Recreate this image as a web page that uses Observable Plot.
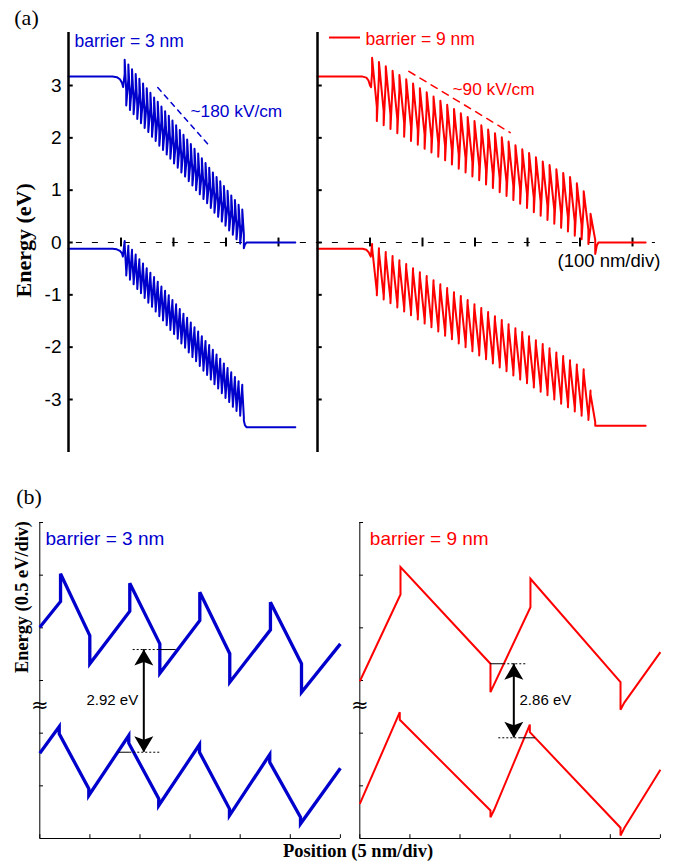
<!DOCTYPE html>
<html>
<head>
<meta charset="utf-8">
<script src="https://cdn.jsdelivr.net/npm/d3@7"></script>
<script src="https://cdn.jsdelivr.net/npm/@observablehq/plot@0.6"></script>
<style>
  html, body { margin: 0; padding: 0; background: #fff; }
  #wrap { position: relative; width: 675px; height: 861px; overflow: hidden; }
  #pa { position: absolute; left: 0; top: 0; }
  #pb { position: absolute; left: 0; top: 470px; }
</style>
</head>
<body>
<div id="wrap"><div id="pa"></div><div id="pb"></div></div>
<script>
// ======================= DATA =======================
// ---- Panel (a): band edges (eV) vs position (nm) ----
const aYTicks = [3, 2, 1, 0, -1, -2, -3];
const aYTickLabels = ["3", "2", "1", "0", "-1", "-2", "-3"];
const aDivTicksLeft = [100, 200, 300, 400];
const aDivTicksRight = [100, 200, 300, 400, 500, 600];

// barrier = 3 nm (period 7 nm): barrier start positions (nm)
const leftBarrierStart = [107,114,121,128,135,142,149,156,163,170,177,184,191,198,205,212,219,226,233,240,247,254,261,268,275,282,289,296,303,310,317,324,331];
const leftBarrierWidth = 3;
// conduction band: spike top at barrier start, trough at barrier end
const leftCbTop = [3.49,3.40,3.31,3.22,3.13,3.04,2.95,2.86,2.77,2.69,2.60,2.51,2.42,2.33,2.24,2.15,2.06,1.97,1.88,1.79,1.70,1.61,1.52,1.43,1.34,1.25,1.17,1.08,0.99,0.90,0.81,0.72,0.63];
const leftCbBottom = [2.62,2.53,2.45,2.36,2.28,2.19,2.11,2.02,1.94,1.85,1.77,1.68,1.60,1.51,1.43,1.34,1.26,1.17,1.09,1.00,0.92,0.83,0.75,0.66,0.57,0.49,0.40,0.32,0.23,0.15,0.06,-0.02,-0.11];
const leftVbTop = [0.03,-0.06,-0.14,-0.23,-0.32,-0.40,-0.49,-0.58,-0.66,-0.75,-0.84,-0.92,-1.01,-1.10,-1.18,-1.27,-1.36,-1.44,-1.53,-1.62,-1.70,-1.79,-1.88,-1.96,-2.05,-2.14,-2.22,-2.31,-2.40,-2.48,-2.57,-2.65,-2.72];
const leftVbBottom = [-0.63,-0.71,-0.80,-0.89,-0.97,-1.06,-1.15,-1.23,-1.32,-1.41,-1.49,-1.58,-1.67,-1.75,-1.84,-1.93,-2.01,-2.10,-2.19,-2.27,-2.36,-2.45,-2.53,-2.62,-2.71,-2.79,-2.88,-2.97,-3.05,-3.14,-3.22,-3.31,-3.40];
const leftCbLead = [[0,3.17],[84,3.17],[92,3.16],[98,3.12],[102,3.05],[104,2.97]];
const leftCbTail = [[336,-0.04],[339,0.0],[432,0.0]];
const leftVbLead = [[0,-0.12],[84,-0.12],[92,-0.13],[98,-0.16],[102,-0.21],[103.5,-0.27]];
const leftVbTail = [[336,-3.49],[339,-3.53],[432,-3.53]];
const leftFieldGuide = [[170,2.96],[270,1.83]];

// barrier = 9 nm (period 13 nm)
const rightBarrierStart = [104,117,130,143,156,169,182,195,208,221,234,247,260,273,286,299,312,325,338,351,364,377,390,403,416,429,442,455,468,481,494,507,520];
const rightBarrierWidth = 9;
const rightCbTop = [3.53,3.45,3.37,3.28,3.20,3.12,3.04,2.95,2.87,2.79,2.71,2.63,2.55,2.47,2.40,2.32,2.24,2.16,2.09,2.01,1.93,1.86,1.78,1.71,1.63,1.55,1.48,1.40,1.33,1.25,1.13,0.98,0.55];
const rightCbBottom = [2.32,2.24,2.17,2.09,2.02,1.94,1.87,1.79,1.72,1.64,1.57,1.49,1.41,1.34,1.26,1.19,1.11,1.04,0.96,0.89,0.81,0.74,0.66,0.58,0.51,0.43,0.36,0.28,0.21,0.13,0.06,-0.03,-0.22];
const rightVbTop = [-0.03,-0.11,-0.18,-0.26,-0.34,-0.41,-0.49,-0.57,-0.64,-0.72,-0.80,-0.87,-0.95,-1.02,-1.10,-1.18,-1.25,-1.33,-1.41,-1.48,-1.56,-1.64,-1.71,-1.79,-1.87,-1.94,-2.02,-2.10,-2.17,-2.25,-2.33,-2.42,-2.83];
const rightVbBottom = [-1.01,-1.09,-1.16,-1.24,-1.32,-1.39,-1.47,-1.55,-1.62,-1.70,-1.78,-1.85,-1.93,-2.00,-2.08,-2.16,-2.23,-2.31,-2.39,-2.46,-2.54,-2.62,-2.69,-2.77,-2.85,-2.92,-3.00,-3.08,-3.15,-3.23,-3.31,-3.39,-3.50];
const rightCbLead = [[0,3.17],[86,3.17],[93,3.15],[97,3.10],[100,3.00],[102,2.97]];
const rightCbTail = [[532,-0.06],[535,0.0],[625,0.0]];
const rightVbLead = [[0,-0.12],[86,-0.12],[93,-0.14],[97,-0.18],[100,-0.24],[101.5,-0.27]];
const rightVbTail = [[531,-3.50],[625,-3.50]];
const rightFieldGuide = [[174,3.27],[367,2.10]];

const cbOffsetStep = 0.27;  // band-offset jump at each interface (eV)
const vbOffsetStep = 0.07;

// ---- Panel (b): zoom of a few periods (nm, eV on the broken 0.5 eV/div axis) ----
const bYTicks = [0.5, 1, 1.5, 2, 2.5, 3];
const bXTicks = [0, 5, 10, 15, 20, 25, 30];
const bLeftCb = [[0,2.006],[2.07,2.250],[2.07,2.513],[4.99,1.927],[4.99,1.659],[8.98,2.158],[8.98,2.424],[11.98,1.848],[11.98,1.569],[15.97,2.070],[15.97,2.338],[18.96,1.754],[18.96,1.484],[23.02,1.981],[23.02,2.243],[26.12,1.659],[26.12,1.389],[30.0,1.848]];
const bLeftVb = [[0,0.810],[1.94,1.063],[1.94,0.994],[4.89,0.472],[4.89,0.408],[8.88,0.978],[8.88,0.905],[11.87,0.377],[11.87,0.313],[15.94,0.892],[15.94,0.819],[18.93,0.282],[18.93,0.218],[22.95,0.797],[22.95,0.724],[26.02,0.202],[26.02,0.140],[30.0,0.667]];
const bRightCb = [[0,1.493],[4.06,2.317],[4.06,2.576],[13.04,1.659],[13.04,1.389],[17.03,2.196],[17.03,2.466],[26.02,1.484],[26.02,1.222],[26.4,1.29],[30.0,1.769]];
const bRightVb = [[0,0.329],[3.99,1.199],[3.99,1.127],[13.04,0.266],[13.04,0.202],[13.4,0.27],[16.97,1.082],[16.97,1.009],[26.02,0.102],[26.02,0.028],[26.4,0.10],[30.0,0.652]];
// confined levels (solid inside the well, dotted extension) and gap arrows
const bLeftLevelsSolid = [[11.98,13.61,1.794],[7.88,8.98,0.819]];
const bLeftLevelsDotted = [[9.32,11.98,1.794],[8.98,11.98,0.819]];
const bRightLevelsSolid = [[13.04,14.37,1.659],[16.04,17.53,0.956]];
const bRightLevelsDotted = [[14.37,16.77,1.659],[13.87,16.04,0.956]];
const bGapLabels = ["2.92 eV", "2.86 eV"];
const bGapArrowLeft = {x: 10.38, top: 1.794, bottom: 0.819};
const bGapArrowRight = {x: 15.37, top: 1.659, bottom: 0.956};

// ======================= LAYOUT / STYLE =======================
const BLUE = "#0000cd";
const RED = "#ff0000";
const SANS = "'Liberation Sans', Arial, Helvetica, sans-serif";
const SERIF = "'Liberation Serif', 'Times New Roman', Times, serif";
const A_OFFSET = 474.3;   // origin of right sub-panel of (a) on shared x axis (nm)
const B_OFFSET = 31.94;   // origin of right sub-panel of (b) on shared x axis (nm)

function cbProfile(lead, starts, tops, bottoms, barrier, step, tail, off) {
  const pts = lead.map(([x, y]) => ({x, y}));
  starts.forEach((x0, i) => {
    pts.push({x: x0, y: tops[i] - step}, {x: x0, y: tops[i]},
             {x: x0 + barrier, y: bottoms[i] + step}, {x: x0 + barrier, y: bottoms[i]});
  });
  tail.forEach(([x, y]) => pts.push({x, y}));
  return pts.map(p => ({x: p.x + off, y: p.y}));
}
function vbProfile(lead, starts, tops, bottoms, barrier, step, tail, off) {
  const pts = lead.map(([x, y]) => ({x, y}));
  starts.forEach((x0, i) => {
    pts.push({x: x0, y: tops[i]}, {x: x0, y: tops[i] - step},
             {x: x0 + barrier, y: bottoms[i] + step}, {x: x0 + barrier, y: bottoms[i]});
  });
  tail.forEach(([x, y]) => pts.push({x, y}));
  return pts.map(p => ({x: p.x + off, y: p.y}));
}
const pairs = (arr, off = 0) => arr.map(([x, y]) => ({x: x + off, y}));
const segs = (arr, off = 0) => arr.map(([a, b, y]) => ({x1: a + off, x2: b + off, y}));
const label = (d, o) => Plot.text([d], {x: "x", y: "y", text: "t", textAnchor: "start", lineAnchor: "bottom", fontFamily: SANS, ...o});

// ---------------- Panel (a) ----------------
const leftCbPts = cbProfile(leftCbLead, leftBarrierStart, leftCbTop, leftCbBottom, leftBarrierWidth, cbOffsetStep, leftCbTail, 0);
const leftVbPts = vbProfile(leftVbLead, leftBarrierStart, leftVbTop, leftVbBottom, leftBarrierWidth, vbOffsetStep, leftVbTail, 0);
const rightCbPts = cbProfile(rightCbLead, rightBarrierStart, rightCbTop, rightCbBottom, rightBarrierWidth, cbOffsetStep, rightCbTail, A_OFFSET);
const rightVbPts = vbProfile(rightVbLead, rightBarrierStart, rightVbTop, rightVbBottom, rightBarrierWidth, vbOffsetStep, rightVbTail, A_OFFSET);
const aTickRows = [0, A_OFFSET].flatMap(b => aYTicks.map(y => ({y, x1: b, x2: b + 9})));
const aDivRows = [...aDivTicksLeft, ...aDivTicksRight.map(v => v + A_OFFSET)];
const aLabelRows = aYTicks.map((y, i) => ({y, t: aYTickLabels[i]}));

const A = Plot.plot({
  width: 675, height: 460,
  marginLeft: 68, marginRight: 0, marginTop: 32, marginBottom: 8,
  x: {domain: [0, 1156.2], axis: null},
  y: {domain: [-4.013, 4.013], axis: null},
  marks: [
    Plot.ruleY([0], {x1: 15, x2: 1118, stroke: "#000", strokeWidth: 1.2, strokeDasharray: "6,10"}),
    Plot.ruleX(aDivRows, {x: d => d, y1: -0.085, y2: 0.085, stroke: "#000", strokeWidth: 2}),
    Plot.line(leftCbPts, {x: "x", y: "y", stroke: BLUE, strokeWidth: 2}),
    Plot.line(leftVbPts, {x: "x", y: "y", stroke: BLUE, strokeWidth: 2}),
    Plot.line(rightCbPts, {x: "x", y: "y", stroke: RED, strokeWidth: 2}),
    Plot.line(rightVbPts, {x: "x", y: "y", stroke: RED, strokeWidth: 2}),
    Plot.line(pairs(leftFieldGuide), {x: "x", y: "y", stroke: BLUE, strokeWidth: 1.5, strokeDasharray: "5,5"}),
    Plot.line(pairs(rightFieldGuide, A_OFFSET), {x: "x", y: "y", stroke: RED, strokeWidth: 1.5, strokeDasharray: "7,6"}),
    Plot.ruleX([0, A_OFFSET], {stroke: "#000", strokeWidth: 2.5}),
    Plot.ruleY(aTickRows, {y: "y", x1: "x1", x2: "x2", stroke: "#000", strokeWidth: 2}),
    Plot.text(aLabelRows, {x: 0, y: "y", text: "t", dx: -7, textAnchor: "end", lineAnchor: "middle", fontSize: 19, fontFamily: SANS}),
    Plot.ruleY([3.917], {x1: A_OFFSET + 22.9, x2: A_OFFSET + 81.9, stroke: RED, strokeWidth: 2}),
    label({x: 11.4, y: 3.736, t: "barrier = 3 nm"}, {fill: BLUE, fontSize: 17.5}),
    label({x: A_OFFSET + 91.4, y: 3.765, t: "barrier = 9 nm"}, {fill: RED, fontSize: 17.5}),
    label({x: 232.4, y: 2.394, t: "~180 kV/cm"}, {fill: BLUE, fontSize: 17.3}),
    label({x: A_OFFSET + 257.1, y: 2.828, t: "~90 kV/cm"}, {fill: RED, fontSize: 17.3}),
    label({x: A_OFFSET + 457.1, y: -0.459, t: "(100 nm/div)"}, {fill: "#000", fontSize: 18.5}),
    label({x: -80, y: 4.156, t: "(a)"}, {fontFamily: SERIF, fontSize: 22, textAnchor: "middle"}),
    label({x: -70.5, y: 0.04, t: "Energy (eV)"}, {fontFamily: SERIF, fontSize: 22, fontWeight: "bold", textAnchor: "middle", rotate: -90})
  ]
});
document.getElementById("pa").appendChild(A);

// ---------------- Panel (b) ----------------
const headUp = {draw(c) { c.moveTo(0, 0); c.lineTo(9.5, 16); c.lineTo(0, 12.5); c.lineTo(-9.5, 16); c.closePath(); }};
const headDown = {draw(c) { c.moveTo(0, 0); c.lineTo(9.5, -16); c.lineTo(0, -12.5); c.lineTo(-9.5, -16); c.closePath(); }};
const bArrows = [bGapArrowLeft, {...bGapArrowRight, x: bGapArrowRight.x + B_OFFSET}];
const bTickRowsY = [0, B_OFFSET].flatMap(b => bYTicks.map(y => ({y, x1: b, x2: b + 0.37})));
const bTickRowsX = [0, B_OFFSET].flatMap(b => bXTicks.map(x => x + b));
const lineB = {x: "x", y: "y", strokeLinejoin: "miter", strokeMiterlimit: 4, strokeLinecap: "butt"};

const B = Plot.plot({
  width: 675, height: 391,
  marginLeft: 39.3, marginRight: 14.5, marginTop: 52, marginBottom: 23,
  x: {domain: [0, 62], axis: null},
  y: {domain: [0, 3], axis: null},
  marks: [
    Plot.ruleX([0, B_OFFSET], {stroke: "#000", strokeWidth: 1}),
    Plot.ruleY([{x1: 0, x2: 30}, {x1: B_OFFSET, x2: B_OFFSET + 30}], {y: 0, x1: "x1", x2: "x2", stroke: "#000", strokeWidth: 1}),
    Plot.ruleY(bTickRowsY, {y: "y", x1: "x1", x2: "x2", stroke: "#000", strokeWidth: 1}),
    Plot.ruleX(bTickRowsX, {x: d => d, y1: 0, y2: 0.036, stroke: "#000", strokeWidth: 1}),
    Plot.line(pairs(bLeftCb), {...lineB, stroke: BLUE, strokeWidth: 3.3}),
    Plot.line(pairs(bLeftVb), {...lineB, stroke: BLUE, strokeWidth: 3.3}),
    Plot.line(pairs(bRightCb, B_OFFSET), {...lineB, stroke: RED, strokeWidth: 2}),
    Plot.line(pairs(bRightVb, B_OFFSET), {...lineB, stroke: RED, strokeWidth: 2}),
    Plot.ruleY([...segs(bLeftLevelsSolid), ...segs(bRightLevelsSolid, B_OFFSET)], {y: "y", x1: "x1", x2: "x2", stroke: "#000", strokeWidth: 1}),
    Plot.ruleY([...segs(bLeftLevelsDotted), ...segs(bRightLevelsDotted, B_OFFSET)], {y: "y", x1: "x1", x2: "x2", stroke: "#000", strokeWidth: 1, strokeDasharray: "2,2"}),
    Plot.ruleX(bArrows, {x: "x", y1: "bottom", y2: "top", stroke: "#000", strokeWidth: 2}),
    Plot.dot(bArrows, {x: "x", y: "top", symbol: headUp, r: 5, fill: "#000", stroke: null}),
    Plot.dot(bArrows, {x: "x", y: "bottom", symbol: headDown, r: 5, fill: "#000", stroke: null}),
    Plot.text([0, B_OFFSET], {x: d => d, y: 1.263, text: () => "≈", textAnchor: "middle", lineAnchor: "middle", fontSize: 21, fontFamily: "'DejaVu Sans', sans-serif"}),
    label({x: 4.66, y: 1.263, t: bGapLabels[0]}, {fill: "#000", fontSize: 15}),
    label({x: B_OFFSET + 15.94, y: 1.263, t: bGapLabels[1]}, {fill: "#000", fontSize: 15}),
    label({x: 0.57, y: 2.782, t: "barrier = 3 nm"}, {fill: BLUE, fontSize: 19}),
    label({x: B_OFFSET + 1.0, y: 2.782, t: "barrier = 9 nm"}, {fill: RED, fontSize: 19}),
    label({x: -1.08, y: 3.18, t: "(b)"}, {fontFamily: SERIF, fontSize: 22, textAnchor: "middle"}),
    label({x: -1.17, y: 2.293, t: "Energy (0.5 eV/div)"}, {fontFamily: SERIF, fontSize: 18.3, fontWeight: "bold", textAnchor: "middle", rotate: -90}),
    label({x: 31.76, y: -0.171, t: "Position (5 nm/div)"}, {fontFamily: SERIF, fontSize: 18.5, fontWeight: "bold", textAnchor: "middle"})
  ]
});
document.getElementById("pb").appendChild(B);
</script>
</body>
</html>
